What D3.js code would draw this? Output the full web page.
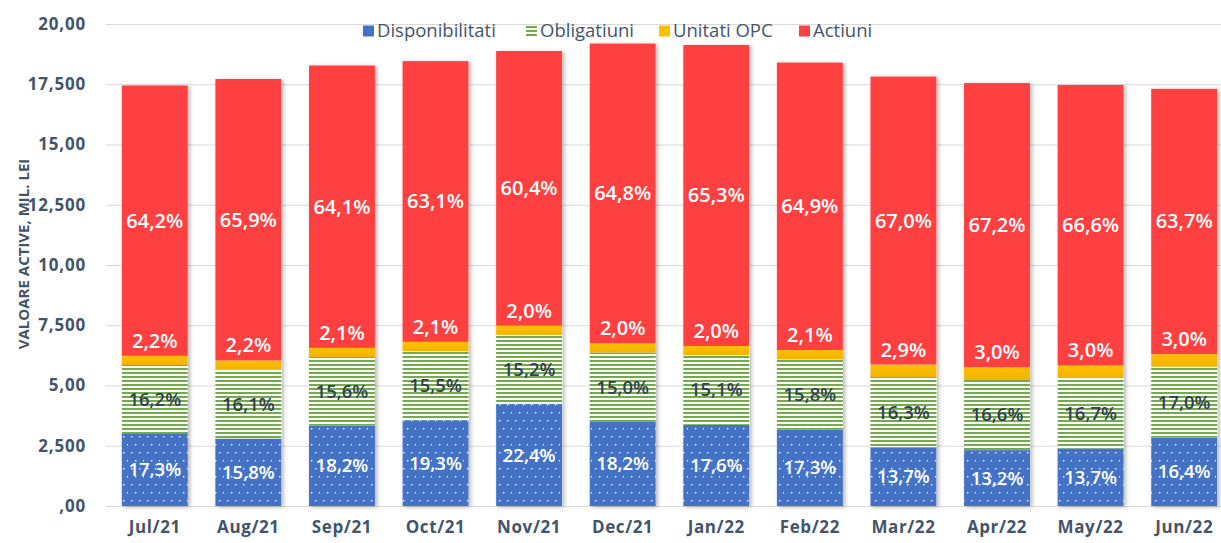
<!DOCTYPE html>
<html>
<head>
<meta charset="utf-8">
<script src="https://cdn.jsdelivr.net/npm/d3@7"></script>
<style>
  body { margin: 0; background: #fff; }
  text { font-family: "Open Sans", "DejaVu Sans", sans-serif; }
</style>
</head>
<body>
<svg width="1221" height="543"></svg>
<script>
const months = ['Jul/21','Aug/21','Sep/21','Oct/21','Nov/21','Dec/21','Jan/22','Feb/22','Mar/22','Apr/22','May/22','Jun/22'];
const seriesNames = ['Disponibilitati', 'Obligatiuni', 'Unitati OPC', 'Actiuni'];

// values, mil. lei
const disponibilitati = [3.02, 2.80, 3.33, 3.56, 4.23, 3.49, 3.37, 3.18, 2.44, 2.32, 2.39, 2.84];
const obligatiuni     = [2.83, 2.85, 2.85, 2.86, 2.87, 2.88, 2.89, 2.90, 2.91, 2.91, 2.92, 2.94];
const unitatiOPC      = [0.38, 0.39, 0.38, 0.39, 0.38, 0.38, 0.38, 0.39, 0.52, 0.53, 0.52, 0.52];
const actiuni         = [11.22, 11.68, 11.72, 11.65, 11.40, 12.44, 12.49, 11.93, 11.95, 11.79, 11.64, 11.01];

// percent labels
const pctDisp = ['17,3%','15,8%','18,2%','19,3%','22,4%','18,2%','17,6%','17,3%','13,7%','13,2%','13,7%','16,4%'];
const pctObl  = ['16,2%','16,1%','15,6%','15,5%','15,2%','15,0%','15,1%','15,8%','16,3%','16,6%','16,7%','17,0%'];
const pctOpc  = ['2,2%','2,2%','2,1%','2,1%','2,0%','2,0%','2,0%','2,1%','2,9%','3,0%','3,0%','3,0%'];
const pctAct  = ['64,2%','65,9%','64,1%','63,1%','60,4%','64,8%','65,3%','64,9%','67,0%','67,2%','66,6%','63,7%'];

const yTicks = [0, 2.5, 5, 7.5, 10, 12.5, 15, 17.5, 20];
const yTickLabels = [',00', '2,500', '5,00', '7,500', '10,00', '12,500', '15,00', '17,500', '20,00'];

const svg = d3.select('svg');
const textColor = '#44546a';

const data = months.map((m, i) => ({
    month: m,
    'Disponibilitati': disponibilitati[i],
    'Obligatiuni': obligatiuni[i],
    'Unitati OPC': unitatiOPC[i],
    'Actiuni': actiuni[i]
}));
const labels = [pctDisp, pctObl, pctOpc, pctAct];

const xScale = d3.scaleBand()
    .domain(months)
    .range([108, 1231])
    .paddingInner(0.295)
    .paddingOuter(0.1475);

const yScale = d3.scaleLinear()
    .domain([0, 20])
    .range([506, 24]);

// patterns
const defs = svg.append('defs');
const dots = defs.append('pattern')
    .attr('id', 'dots').attr('patternUnits', 'userSpaceOnUse')
    .attr('width', 16).attr('height', 16);
dots.append('rect').attr('width', 16).attr('height', 16).attr('fill', '#4472c4');
[[3, 4], [11, 4], [7, 12], [15, 12]].forEach(p => {
    dots.append('rect').attr('x', p[0]).attr('y', p[1]).attr('width', 1.4).attr('height', 1.4).attr('fill', '#fff');
});
const stripes = defs.append('pattern')
    .attr('id', 'stripes').attr('patternUnits', 'userSpaceOnUse')
    .attr('width', 8).attr('height', 4);
stripes.append('rect').attr('width', 8).attr('height', 4).attr('fill', '#fff');
stripes.append('rect').attr('width', 8).attr('height', 2).attr('fill', '#70ad47');
const gold = defs.append('linearGradient').attr('id', 'gold').attr('x1', 0).attr('y1', 0).attr('x2', 0).attr('y2', 1);
gold.append('stop').attr('offset', '0%').attr('stop-color', '#ffc000');
gold.append('stop').attr('offset', '100%').attr('stop-color', '#f2b200');
const shadow = defs.append('filter').attr('id', 'shadow')
    .attr('x', '-10%').attr('y', '-5%').attr('width', '125%').attr('height', '110%');
shadow.append('feDropShadow').attr('dx', 2).attr('dy', 1).attr('stdDeviation', 2)
    .attr('flood-color', '#000').attr('flood-opacity', 0.3);

const fills = ['url(#dots)', 'url(#stripes)', 'url(#gold)', '#ff4040'];
const legendFills = ['#4472c4', '#70ad47', '#ffc000', '#ff4040'];

// gridlines + y axis
const yAxis = d3.axisLeft(yScale)
    .tickValues(yTicks)
    .tickFormat((d, i) => yTickLabels[i])
    .tickSize(-(1221 - 106))
    .tickPadding(20);
const yAxisG = svg.append('g')
    .attr('transform', 'translate(106,0)')
    .call(yAxis);
yAxisG.select('.domain').remove();
yAxisG.selectAll('.tick line').attr('stroke', '#d9d9d9');
yAxisG.selectAll('.tick text')
    .attr('fill', textColor)
    .attr('font-size', 17)
    .attr('font-weight', 'bold')
    .attr('letter-spacing', 0.8);

svg.append('text')
    .attr('transform', 'translate(29,254) rotate(-90)')
    .attr('text-anchor', 'middle')
    .attr('fill', textColor)
    .attr('font-size', 15)
    .attr('font-weight', 'bold')
    .text('VALOARE ACTIVE, MIL. LEI');

// x axis
const xAxisG = svg.append('g')
    .attr('transform', 'translate(0,506)')
    .call(d3.axisBottom(xScale).tickSize(0).tickPadding(15));
xAxisG.select('.domain').remove();
xAxisG.selectAll('.tick text')
    .attr('fill', textColor)
    .attr('font-size', 17)
    .attr('font-weight', 'bold')
    .attr('letter-spacing', 0.6);

// bars
const stacked = d3.stack().keys(seriesNames)(data);

const barsG = svg.append('g');
months.forEach((m, i) => {
    const d = stacked[3][i];
    barsG.append('rect')
        .attr('x', xScale(m))
        .attr('y', yScale(d[1]))
        .attr('width', xScale.bandwidth())
        .attr('height', yScale(0) - yScale(d[1]))
        .attr('fill', '#fff')
        .attr('filter', 'url(#shadow)');
});

barsG.selectAll('g.series').data(stacked)
    .enter().append('g')
        .attr('class', 'series')
        .attr('fill', (d, i) => fills[i])
    .selectAll('rect').data(d => d)
    .enter().append('rect')
        .attr('x', d => xScale(d.data.month))
        .attr('y', d => yScale(d[1]))
        .attr('width', xScale.bandwidth())
        .attr('height', d => yScale(d[0]) - yScale(d[1]));

// labels
const labelSizes = [18.5, 18.5, 20, 20];
const labelG = svg.append('g')
    .attr('text-anchor', 'middle')
    .attr('font-weight', 600);
stacked.forEach((s, si) => {
    labelG.selectAll(null).data(s)
        .enter().append('text')
            .attr('x', d => xScale(d.data.month) + xScale.bandwidth() / 2)
            .attr('y', d => si === 2 ? yScale(d[1]) - 15 : yScale((d[0] + d[1]) / 2))
            .attr('dy', '0.35em')
            .attr('font-size', labelSizes[si])
            .attr('fill', si === 1 ? '#333f50' : '#fff')
            .text((d, i) => labels[si][i]);
});

// legend
const legendX = [363, 526, 659, 799];
const legend = svg.append('g');
seriesNames.forEach((name, i) => {
    const g = legend.append('g').attr('transform', `translate(${legendX[i]},31)`);
    if (i === 1) {
        [-4, 0, 4].forEach(dy => g.append('rect').attr('x', 0).attr('y', dy - 1).attr('width', 11).attr('height', 2).attr('fill', legendFills[i]));
    } else {
        g.append('rect').attr('x', 0).attr('y', -5.5).attr('width', 11).attr('height', 11).attr('fill', legendFills[i]);
    }
    g.append('text')
        .attr('x', 14)
        .attr('dy', '0.35em')
        .attr('fill', textColor)
        .attr('font-size', 18.5)
        .text(name);
});
</script>
</body>
</html>
